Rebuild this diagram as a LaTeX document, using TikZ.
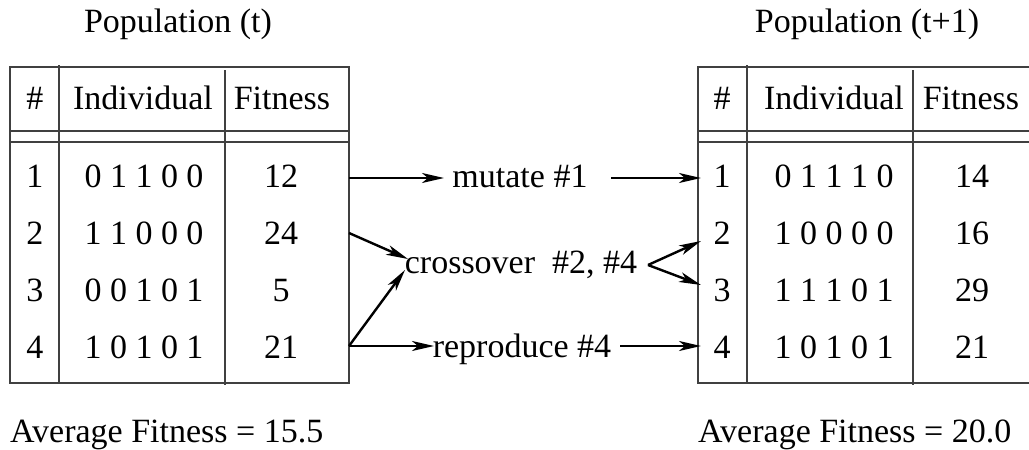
\documentclass[tikz,border=0pt]{standalone}
\usepackage{fontspec}
\setmainfont{Liberation Serif}
\usetikzlibrary{arrows.meta}
\begin{document}
\begin{tikzpicture}[x=1pt,y=-1pt,
  txt/.style={font=\fontsize{34}{40}\selectfont, inner sep=0pt, anchor=base},
  lefttxt/.style={txt, anchor=base west},
  grid/.style={line width=1.2pt, draw=black!75},
  flow/.style={line width=2.4pt, -{Stealth[length=22pt,width=10pt,inset=6pt]}}]
\useasboundingbox (0,0) rectangle (1029,450);

% ---- titles and averages
\node[txt] (titleA) at (178,32) {Population (t)};
\node[txt] (titleB) at (867,32) {Population (t+1)};
\node[lefttxt] (avgA) at (10,442) {Average Fitness = 15.5};
\node[lefttxt] (avgB) at (698,442) {Average Fitness = 20.0};

% ---- population (t) table
\draw[grid] (10,67) rectangle (349,383);
\draw[grid] (10,131) -- (349,131) (10,142) -- (349,142);
\draw[grid] (59,65) -- (59,383);
\draw[grid] (225,70) -- (225,385);
\node[txt] (hA1) at (35,109) {\#};
\node[txt] (hA2) at (143,109) {Individual};
\node[txt] (hA3) at (282,109) {Fitness};
\foreach \i/\b/\f [count=\k] in {1/0 1 1 0 0/12, 2/1 1 0 0 0/24, 3/0 0 1 0 1/5, 4/1 0 1 0 1/21} {
  \node[txt] (a\k n) at (35,130+57*\k) {\i};
  \node[txt] (a\k b) at (144,130+57*\k) {\b};
  \node[txt] (a\k f) at (281,130+57*\k) {\f};
}

% ---- population (t+1) table
\draw[grid] (1029,67) -- (698,67) -- (698,383) -- (1029,383);
\draw[grid] (698,131) -- (1029,131) (698,142) -- (1029,142);
\draw[grid] (747,65) -- (747,383);
\draw[grid] (913,70) -- (913,385);
\node[txt] (hB1) at (722,109) {\#};
\node[txt] (hB2) at (834,109) {Individual};
\node[txt] (hB3) at (971,109) {Fitness};
\foreach \i/\b/\f [count=\k] in {1/0 1 1 1 0/14, 2/1 0 0 0 0/16, 3/1 1 1 0 1/29, 4/1 0 1 0 1/21} {
  \node[txt] (b\k n) at (722,130+57*\k) {\i};
  \node[txt] (b\k b) at (834,130+57*\k) {\b};
  \node[txt] (b\k f) at (972,130+57*\k) {\f};
}

% ---- operator labels
\node[txt] (mut) at (520,187) {mutate \#1};
\node[txt] (cross) at (521,273) {crossover\ \ \#2, \#4};
\node[txt] (repr) at (522,357) {reproduce \#4};

% ---- arrow end points on the table edges and beside the labels
\coordinate (o1) at (349,178);
\coordinate (o2) at (349,233);
\coordinate (o4) at (349,346);
\coordinate (mutIn) at (444,178);
\coordinate (mutOut) at (611,178);
\coordinate (crossInA) at (408,259);
\coordinate (crossInB) at (405,270);
\coordinate (crossOut) at (648,265);
\coordinate (reprIn) at (434,346);
\coordinate (reprOut) at (620,346);
\coordinate (i1) at (701,178);
\coordinate (i2) at (701,241);
\coordinate (i3) at (701,285);
\coordinate (i4) at (701,346);

% ---- operator arrows
\draw[flow] (o1) -- (mutIn);
\draw[flow] (mutOut) -- (i1);
\draw[flow] (o2) -- (crossInA);
\draw[flow] (o4) -- (crossInB);
\draw[flow] (crossOut) -- (i2);
\draw[flow] (crossOut) -- (i3);
\draw[flow] (o4) -- (reprIn);
\draw[flow] (reprOut) -- (i4);
\end{tikzpicture}
\end{document}
